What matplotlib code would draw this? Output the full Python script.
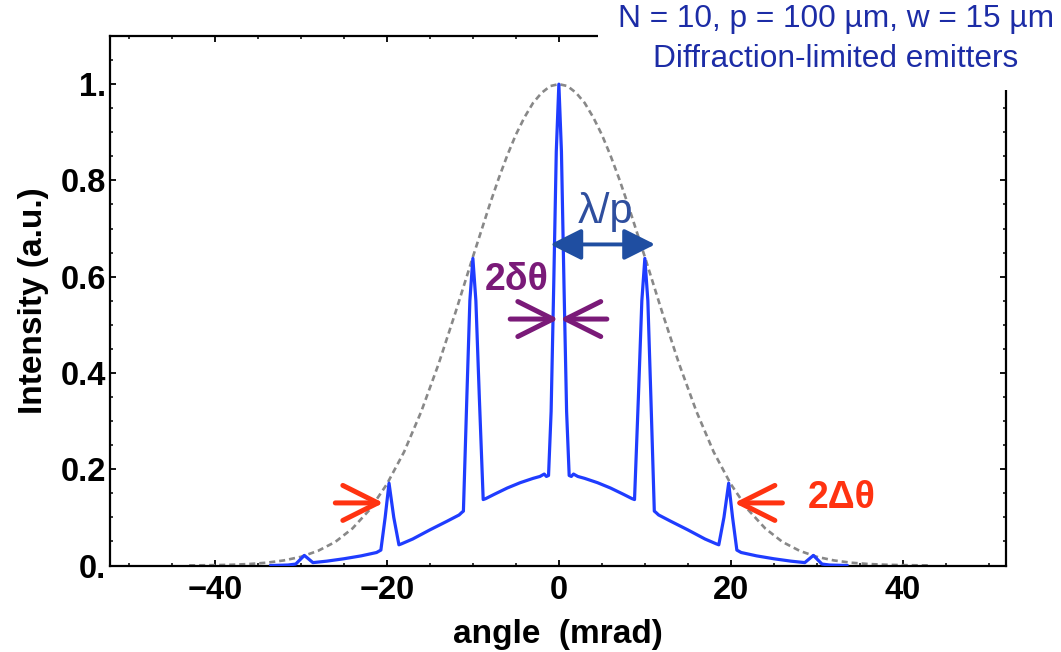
import matplotlib
matplotlib.use('Agg')
import matplotlib.pyplot as plt
from matplotlib.patches import Rectangle
from matplotlib.ticker import MultipleLocator, FixedLocator, FixedFormatter

# ---- data ----
angle = [-33.5, -31.5, -30.6, -29.6, -28.6, -27.0, -25.0, -23.0, -21.2, -20.7,
         -20.2, -19.75, -19.2, -18.6, -18.3, -17.0, -15.0, -13.0, -11.6, -11.3,
         -11.1, -10.7, -10.35, -10.0, -9.65, -9.25, -8.8, -8.5, -7.5, -6.0,
         -4.5, -3.0, -2.2, -1.7, -1.45, -1.2, -0.9, -0.6, -0.3, 0.0,
         0.3, 0.6, 0.9, 1.2, 1.45, 1.7, 2.2, 3.0, 4.5, 6.0,
         7.5, 8.5, 8.8, 9.25, 9.65, 10.0, 10.35, 10.7, 11.1, 11.3,
         11.6, 13.0, 15.0, 17.0, 18.3, 18.6, 19.2, 19.75, 20.2, 20.7,
         21.2, 23.0, 25.0, 27.0, 28.6, 29.6, 30.6, 31.5, 33.5]
intensity = [0.0, 0.001, 0.003, 0.021, 0.006, 0.009, 0.014, 0.020, 0.027, 0.032,
             0.10, 0.171, 0.10, 0.043, 0.045, 0.055, 0.074, 0.092, 0.105, 0.110,
             0.113, 0.35, 0.55, 0.638, 0.55, 0.35, 0.137, 0.139, 0.148, 0.161,
             0.172, 0.181, 0.185, 0.190, 0.185, 0.187, 0.32, 0.58, 0.86, 1.0,
             0.86, 0.58, 0.32, 0.187, 0.185, 0.190, 0.185, 0.181, 0.172, 0.161,
             0.148, 0.139, 0.137, 0.35, 0.55, 0.638, 0.55, 0.35, 0.113, 0.110,
             0.105, 0.092, 0.074, 0.055, 0.045, 0.043, 0.10, 0.171, 0.10, 0.032,
             0.027, 0.020, 0.014, 0.009, 0.006, 0.021, 0.003, 0.001, 0.0]

env_angle = [-43, -42, -40, -38, -36, -34, -32, -30, -28, -26, -24, -22, -20,
             -18, -16, -14, -12, -10, -8, -7, -6, -5, -4, -3, -2, -1, 0,
             1, 2, 3, 4, 5, 6, 7, 8, 10, 12, 14, 16, 18, 20, 22, 24, 26, 28,
             30, 32, 34, 36, 38, 40, 42, 43]
env_intensity = [0.0003, 0.0004, 0.0008, 0.0016, 0.0031, 0.0058, 0.0105, 0.018,
                 0.0305, 0.049, 0.077, 0.116, 0.169, 0.236, 0.320, 0.418, 0.527,
                 0.641, 0.752, 0.804, 0.852, 0.895, 0.931, 0.961, 0.982, 0.996, 1.0,
                 0.996, 0.982, 0.961, 0.931, 0.895, 0.852, 0.804, 0.752,
                 0.641, 0.527, 0.418, 0.320, 0.236,
                 0.169, 0.116, 0.077, 0.049, 0.0305, 0.018, 0.0105, 0.0058,
                 0.0031, 0.0016, 0.0008, 0.0004, 0.0003]

x_ticks = [-40, -20, 0, 20, 40]
x_tick_labels = ['\u221240', '\u221220', '0', '20', '40']
y_ticks = [0.0, 0.2, 0.4, 0.6, 0.8, 1.0]
y_tick_labels = ['0.', '0.2', '0.4', '0.6', '0.8', '1.']

plt.rcParams['font.family'] = ['Liberation Sans', 'DejaVu Sans']

W, H = 1061, 652
fig = plt.figure(figsize=(W / 100, H / 100), dpi=100)
ax = fig.add_axes([110 / W, 1 - 565.5 / H, (1006 - 110) / W, (565.5 - 36) / H])

ax.plot(env_angle, env_intensity, color='#888888', lw=1.9,
        ls=(0, (2.3, 1.5)), zorder=2)
ax.plot(angle, intensity, color='#1f3cff', lw=2.3, zorder=3,
        solid_joinstyle='round')

ax.set_xlim(-52.2, 52.0)
ax.set_ylim(0, 1.1)

ax.xaxis.set_major_locator(FixedLocator(x_ticks))
ax.xaxis.set_major_formatter(FixedFormatter(x_tick_labels))
ax.xaxis.set_minor_locator(MultipleLocator(5))
ax.yaxis.set_major_locator(FixedLocator(y_ticks))
ax.yaxis.set_major_formatter(FixedFormatter(y_tick_labels))
ax.yaxis.set_minor_locator(MultipleLocator(0.05))

ax.tick_params(which='both', direction='in', top=True, right=True, color='black')
ax.tick_params(which='major', length=4.5, width=1.3)
ax.tick_params(which='minor', length=2.3, width=1.1)
ax.tick_params(axis='y', which='major', pad=3, labelsize=23.5)
ax.tick_params(axis='x', which='major', pad=7, labelsize=23.5)
for lab in ax.get_xticklabels() + ax.get_yticklabels():
    lab.set_fontweight('bold')
for sp in ax.spines.values():
    sp.set_linewidth(1.6)

ax.set_xlabel('angle  (mrad)', fontsize=24, fontweight='bold', labelpad=9)
ax.set_ylabel('Intensity (a.u.)', fontsize=24, fontweight='bold', labelpad=8)

# ---- annotations ----
# lambda / p double arrow
ax.annotate('', xy=(11.2, 0.667), xytext=(-1.0, 0.667),
            arrowprops=dict(arrowstyle='<|-|>,head_length=0.4,head_width=0.2',
                            mutation_scale=48, lw=2.8, color='#1f4ea1',
                            shrinkA=0, shrinkB=0))
ax.text(5.4, 0.734, '\u03bb/p', fontsize=30, color='#2e4e9e',
        ha='center', va='center')

# 2 delta theta
purple = '#7a1a78'
ax.annotate('', xy=(-0.05, 0.512), xytext=(-5.66, 0.512),
            arrowprops=dict(arrowstyle='->,head_length=0.4,head_width=0.2',
                            mutation_scale=63, lw=3.6, color=purple,
                            shrinkA=0, shrinkB=0, capstyle='round',
                            joinstyle='round'))
ax.annotate('', xy=(0.15, 0.512), xytext=(5.58, 0.512),
            arrowprops=dict(arrowstyle='->,head_length=0.4,head_width=0.2',
                            mutation_scale=63, lw=3.6, color=purple,
                            shrinkA=0, shrinkB=0, capstyle='round',
                            joinstyle='round'))
ax.text(-4.96, 0.593, '2\u03b4\u03b8', fontsize=27, fontweight='bold',
        color=purple, ha='center', va='center')

# 2 Delta theta
red = '#ff3311'
ax.annotate('', xy=(-20.4, 0.130), xytext=(-26.0, 0.130),
            arrowprops=dict(arrowstyle='->,head_length=0.4,head_width=0.2',
                            mutation_scale=63, lw=3.6, color=red,
                            shrinkA=0, shrinkB=0, capstyle='round',
                            joinstyle='round'))
ax.annotate('', xy=(20.4, 0.130), xytext=(26.0, 0.130),
            arrowprops=dict(arrowstyle='->,head_length=0.4,head_width=0.2',
                            mutation_scale=63, lw=3.6, color=red,
                            shrinkA=0, shrinkB=0, capstyle='round',
                            joinstyle='round'))
ax.text(32.9, 0.140, '2\u0394\u03b8', fontsize=27, fontweight='bold',
        color=red, ha='center', va='center')

# ---- header box covering the top-right of the frame ----
fig.add_artist(Rectangle((598 / W, 1 - 90 / H), 1 - 598 / W, 90 / H,
                         transform=fig.transFigure, facecolor='white',
                         edgecolor='none', zorder=5))
hdr = '#1c2ca6'
fig.text(836 / W, 1 - 19 / H, 'N = 10, p = 100 \u00b5m, w = 15 \u00b5m',
         fontsize=22.8, color=hdr, ha='center', va='center', zorder=6)
fig.text(836 / W, 1 - 59 / H, 'Diffraction-limited emitters',
         fontsize=22.8, color=hdr, ha='center', va='center', zorder=6)

fig.savefig('out.png', dpi=100)
